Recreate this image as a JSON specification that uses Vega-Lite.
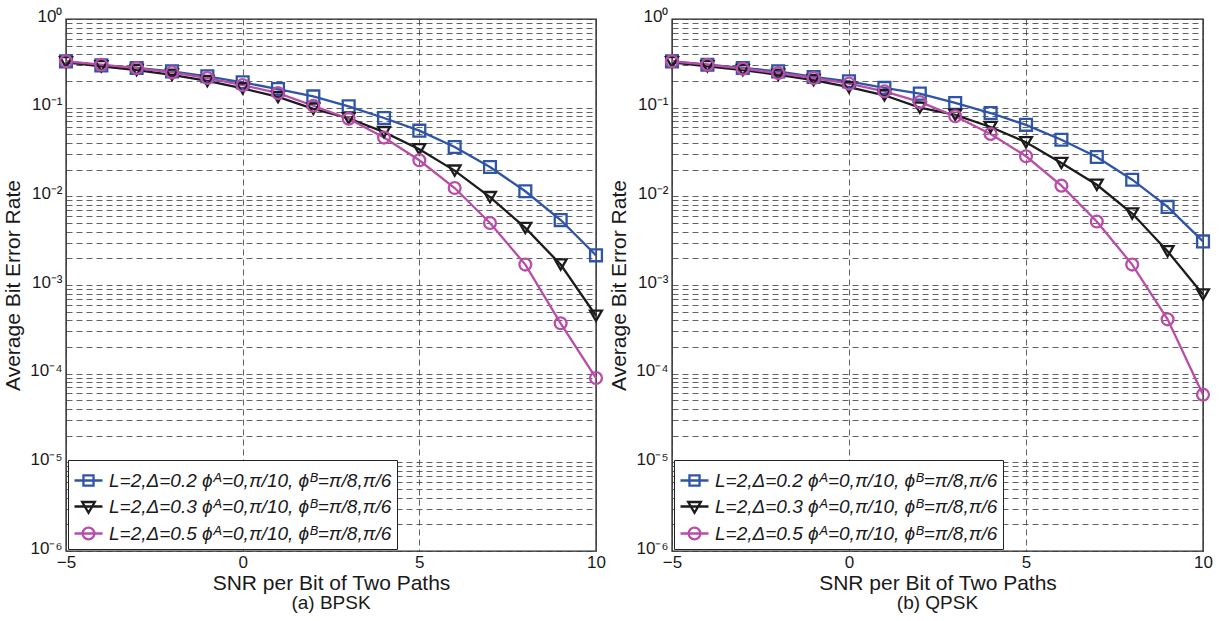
{
  "$schema": "https://vega.github.io/schema/vega-lite/v6.json",
  "background": "white",
  "padding": {"left": 2, "top": 6, "right": 5, "bottom": 3},
  "spacing": 76,
  "bounds": "flush",
  "datasets": {
    "bpsk": [
      {"x": -5, "s": "0.2", "ber": 0.333}, {"x": -4, "s": "0.2", "ber": 0.300}, {"x": -3, "s": "0.2", "ber": 0.280}, {"x": -2, "s": "0.2", "ber": 0.257},
      {"x": -1, "s": "0.2", "ber": 0.226}, {"x": 0, "s": "0.2", "ber": 0.193}, {"x": 1, "s": "0.2", "ber": 0.162}, {"x": 2, "s": "0.2", "ber": 0.134},
      {"x": 3, "s": "0.2", "ber": 0.1035}, {"x": 4, "s": "0.2", "ber": 0.0765}, {"x": 5, "s": "0.2", "ber": 0.055}, {"x": 6, "s": "0.2", "ber": 0.036},
      {"x": 7, "s": "0.2", "ber": 0.0214}, {"x": 8, "s": "0.2", "ber": 0.0114}, {"x": 9, "s": "0.2", "ber": 0.0054}, {"x": 10, "s": "0.2", "ber": 0.00216},
      {"x": -5, "s": "0.3", "ber": 0.325}, {"x": -4, "s": "0.3", "ber": 0.293}, {"x": -3, "s": "0.3", "ber": 0.265}, {"x": -2, "s": "0.3", "ber": 0.235},
      {"x": -1, "s": "0.3", "ber": 0.200}, {"x": 0, "s": "0.3", "ber": 0.165}, {"x": 1, "s": "0.3", "ber": 0.132}, {"x": 2, "s": "0.3", "ber": 0.097},
      {"x": 3, "s": "0.3", "ber": 0.076}, {"x": 4, "s": "0.3", "ber": 0.053}, {"x": 5, "s": "0.3", "ber": 0.034}, {"x": 6, "s": "0.3", "ber": 0.0195},
      {"x": 7, "s": "0.3", "ber": 0.0098}, {"x": 8, "s": "0.3", "ber": 0.0044}, {"x": 9, "s": "0.3", "ber": 0.0017}, {"x": 10, "s": "0.3", "ber": 0.00045},
      {"x": -5, "s": "0.5", "ber": 0.333}, {"x": -4, "s": "0.5", "ber": 0.305}, {"x": -3, "s": "0.5", "ber": 0.280}, {"x": -2, "s": "0.5", "ber": 0.250},
      {"x": -1, "s": "0.5", "ber": 0.216}, {"x": 0, "s": "0.5", "ber": 0.180}, {"x": 1, "s": "0.5", "ber": 0.146}, {"x": 2, "s": "0.5", "ber": 0.105},
      {"x": 3, "s": "0.5", "ber": 0.075}, {"x": 4, "s": "0.5", "ber": 0.046}, {"x": 5, "s": "0.5", "ber": 0.0255}, {"x": 6, "s": "0.5", "ber": 0.0124},
      {"x": 7, "s": "0.5", "ber": 0.005}, {"x": 8, "s": "0.5", "ber": 0.0017}, {"x": 9, "s": "0.5", "ber": 0.00037}, {"x": 10, "s": "0.5", "ber": 0.0000893}
    ],
    "qpsk": [
      {"x": -5, "s": "0.2", "ber": 0.333}, {"x": -4, "s": "0.2", "ber": 0.305}, {"x": -3, "s": "0.2", "ber": 0.280}, {"x": -2, "s": "0.2", "ber": 0.257},
      {"x": -1, "s": "0.2", "ber": 0.222}, {"x": 0, "s": "0.2", "ber": 0.198}, {"x": 1, "s": "0.2", "ber": 0.167}, {"x": 2, "s": "0.2", "ber": 0.144},
      {"x": 3, "s": "0.2", "ber": 0.113}, {"x": 4, "s": "0.2", "ber": 0.087}, {"x": 5, "s": "0.2", "ber": 0.064}, {"x": 6, "s": "0.2", "ber": 0.0435},
      {"x": 7, "s": "0.2", "ber": 0.0278}, {"x": 8, "s": "0.2", "ber": 0.0154}, {"x": 9, "s": "0.2", "ber": 0.0076}, {"x": 10, "s": "0.2", "ber": 0.0031},
      {"x": -5, "s": "0.3", "ber": 0.325}, {"x": -4, "s": "0.3", "ber": 0.293}, {"x": -3, "s": "0.3", "ber": 0.265}, {"x": -2, "s": "0.3", "ber": 0.235},
      {"x": -1, "s": "0.3", "ber": 0.205}, {"x": 0, "s": "0.3", "ber": 0.170}, {"x": 1, "s": "0.3", "ber": 0.138}, {"x": 2, "s": "0.3", "ber": 0.100},
      {"x": 3, "s": "0.3", "ber": 0.083}, {"x": 4, "s": "0.3", "ber": 0.0605}, {"x": 5, "s": "0.3", "ber": 0.0407}, {"x": 6, "s": "0.3", "ber": 0.0238},
      {"x": 7, "s": "0.3", "ber": 0.0135}, {"x": 8, "s": "0.3", "ber": 0.0064}, {"x": 9, "s": "0.3", "ber": 0.0024}, {"x": 10, "s": "0.3", "ber": 0.00078},
      {"x": -5, "s": "0.5", "ber": 0.333}, {"x": -4, "s": "0.5", "ber": 0.305}, {"x": -3, "s": "0.5", "ber": 0.275}, {"x": -2, "s": "0.5", "ber": 0.246},
      {"x": -1, "s": "0.5", "ber": 0.216}, {"x": 0, "s": "0.5", "ber": 0.187}, {"x": 1, "s": "0.5", "ber": 0.153}, {"x": 2, "s": "0.5", "ber": 0.116},
      {"x": 3, "s": "0.5", "ber": 0.080}, {"x": 4, "s": "0.5", "ber": 0.0505}, {"x": 5, "s": "0.5", "ber": 0.0283}, {"x": 6, "s": "0.5", "ber": 0.0132},
      {"x": 7, "s": "0.5", "ber": 0.0052}, {"x": 8, "s": "0.5", "ber": 0.0017}, {"x": 9, "s": "0.5", "ber": 0.00041}, {"x": 10, "s": "0.5", "ber": 0.000058}
    ]
  },
  "hconcat": [
    {
      "width": 530,
      "height": 532,
      "data": {"name": "bpsk"},
      "title": {"text": "(a) BPSK", "orient": "bottom", "fontSize": 19, "fontWeight": "normal", "font": "Liberation Sans", "color": "#1a1a1a", "offset": 1},
      "encoding": {
        "x": {"field": "x", "type": "quantitative", "scale": {"domain": [-5, 10], "nice": false, "zero": false},
          "axis": {"title": "SNR per Bit of Two Paths", "values": [-5, 0, 5, 10], "grid": true, "domain": false, "ticks": false, "labelFlush": false, "labelPadding": 3, "titlePadding": 2}},
        "y": {"field": "ber", "type": "quantitative", "scale": {"type": "log", "domain": [0.000001, 1], "nice": false},
          "axis": {"title": "Average Bit Error Rate", "grid": true, "domain": false, "ticks": false, "labelOverlap": false, "labelPadding": 4, "labelOffset": -3, "titlePadding": 6,
            "values": [0.000001,0.000002,0.000003,0.000004,0.000005,0.000006,0.000007,0.000008,0.000009,0.00001,0.00002,0.00003,0.00004,0.00005,0.00006,0.00007,0.00008,0.00009,0.0001,0.0002,0.0003,0.0004,0.0005,0.0006,0.0007,0.0008,0.0009,0.001,0.002,0.003,0.004,0.005,0.006,0.007,0.008,0.009,0.01,0.02,0.03,0.04,0.05,0.06,0.07,0.08,0.09,0.1,0.2,0.3,0.4,0.5,0.6,0.7,0.8,0.9,1],
            "labelExpr": "datum.value == 1 ? '10⁰' : datum.value == 0.1 ? '10⁻¹' : datum.value == 0.01 ? '10⁻²' : datum.value == 0.001 ? '10⁻³' : datum.value == 0.0001 ? '10⁻⁴' : datum.value == 0.00001 ? '10⁻⁵' : datum.value == 0.000001 ? '10⁻⁶' : ''"}}
      },
      "layer": [
        {"mark": {"type": "line", "strokeWidth": 2.3},
          "encoding": {"color": {"field": "s", "type": "nominal", "scale": {"domain": ["0.2", "0.3", "0.5"], "range": ["#2E55A6", "#1c1c1c", "#B84EA8"]}, "legend": null}}},
        {"mark": {"type": "point", "filled": false, "strokeWidth": 2.3, "size": 140, "opacity": 1},
          "encoding": {
            "color": {"field": "s", "type": "nominal", "scale": {"domain": ["0.2", "0.3", "0.5"], "range": ["#2E55A6", "#1c1c1c", "#B84EA8"]}, "legend": null},
            "shape": {"field": "s", "type": "nominal", "scale": {"domain": ["0.2", "0.3", "0.5"], "range": ["square", "triangle-down", "circle"]}, "legend": null}}},
        {"transform": [{"filter": "datum.x > 100"}],
          "mark": {"type": "point", "filled": false, "strokeWidth": 2.3, "opacity": 1},
          "encoding": {
            "color": {"field": "s", "type": "nominal", "scale": {"domain": ["0.2", "0.3", "0.5"], "range": ["#2E55A6", "#1c1c1c", "#B84EA8"]},
              "legend": {"title": null, "orient": "bottom-left", "offset": 2, "strokeColor": "#222", "fillColor": "white", "padding": 5, "rowPadding": 0, "labelOffset": 5, "labelLimit": 500,
                "labelFont": "Liberation Sans", "labelFontSize": 19, "labelFontStyle": "italic", "labelColor": "#1a1a1a", "symbolSize": 784, "symbolStrokeWidth": 2.3,
                "labelExpr": "'L=2,Δ=' + datum.label + ' ϕᴬ=0,π/10, ϕᴮ=π/8,π/6'"}},
            "shape": {"field": "s", "type": "nominal",
              "scale": {"domain": ["0.2", "0.3", "0.5"], "range": ["M-1,0L1,0M-0.36,-0.36L0.36,-0.36L0.36,0.36L-0.36,0.36Z", "M-1,0L1,0M-0.45,-0.32L0.45,-0.32L0,0.45Z", "M-1,0L1,0M0.42,0A0.42,0.42 0 1,1 -0.42,0A0.42,0.42 0 1,1 0.42,0Z"]},
              "legend": {"title": null, "orient": "bottom-left", "offset": 2, "strokeColor": "#222", "fillColor": "white", "padding": 5, "rowPadding": 0, "labelOffset": 5, "labelLimit": 500,
                "labelFont": "Liberation Sans", "labelFontSize": 19, "labelFontStyle": "italic", "labelColor": "#1a1a1a", "symbolSize": 784, "symbolStrokeWidth": 2.3,
                "labelExpr": "'L=2,Δ=' + datum.label + ' ϕᴬ=0,π/10, ϕᴮ=π/8,π/6'"}}}}
      ],
      "resolve": {"scale": {"color": "independent", "shape": "independent"}, "legend": {"color": "independent", "shape": "independent"}}
    },
    {
      "width": 531,
      "height": 532,
      "data": {"name": "qpsk"},
      "title": {"text": "(b) QPSK", "orient": "bottom", "fontSize": 19, "fontWeight": "normal", "font": "Liberation Sans", "color": "#1a1a1a", "offset": 1},
      "encoding": {
        "x": {"field": "x", "type": "quantitative", "scale": {"domain": [-5, 10], "nice": false, "zero": false},
          "axis": {"title": "SNR per Bit of Two Paths", "values": [-5, 0, 5, 10], "grid": true, "domain": false, "ticks": false, "labelFlush": false, "labelPadding": 3, "titlePadding": 2}},
        "y": {"field": "ber", "type": "quantitative", "scale": {"type": "log", "domain": [0.000001, 1], "nice": false},
          "axis": {"title": "Average Bit Error Rate", "grid": true, "domain": false, "ticks": false, "labelOverlap": false, "labelPadding": 4, "labelOffset": -3, "titlePadding": 6,
            "values": [0.000001,0.000002,0.000003,0.000004,0.000005,0.000006,0.000007,0.000008,0.000009,0.00001,0.00002,0.00003,0.00004,0.00005,0.00006,0.00007,0.00008,0.00009,0.0001,0.0002,0.0003,0.0004,0.0005,0.0006,0.0007,0.0008,0.0009,0.001,0.002,0.003,0.004,0.005,0.006,0.007,0.008,0.009,0.01,0.02,0.03,0.04,0.05,0.06,0.07,0.08,0.09,0.1,0.2,0.3,0.4,0.5,0.6,0.7,0.8,0.9,1],
            "labelExpr": "datum.value == 1 ? '10⁰' : datum.value == 0.1 ? '10⁻¹' : datum.value == 0.01 ? '10⁻²' : datum.value == 0.001 ? '10⁻³' : datum.value == 0.0001 ? '10⁻⁴' : datum.value == 0.00001 ? '10⁻⁵' : datum.value == 0.000001 ? '10⁻⁶' : ''"}}
      },
      "layer": [
        {"mark": {"type": "line", "strokeWidth": 2.3},
          "encoding": {"color": {"field": "s", "type": "nominal", "scale": {"domain": ["0.2", "0.3", "0.5"], "range": ["#2E55A6", "#1c1c1c", "#B84EA8"]}, "legend": null}}},
        {"mark": {"type": "point", "filled": false, "strokeWidth": 2.3, "size": 140, "opacity": 1},
          "encoding": {
            "color": {"field": "s", "type": "nominal", "scale": {"domain": ["0.2", "0.3", "0.5"], "range": ["#2E55A6", "#1c1c1c", "#B84EA8"]}, "legend": null},
            "shape": {"field": "s", "type": "nominal", "scale": {"domain": ["0.2", "0.3", "0.5"], "range": ["square", "triangle-down", "circle"]}, "legend": null}}},
        {"transform": [{"filter": "datum.x > 100"}],
          "mark": {"type": "point", "filled": false, "strokeWidth": 2.3, "opacity": 1},
          "encoding": {
            "color": {"field": "s", "type": "nominal", "scale": {"domain": ["0.2", "0.3", "0.5"], "range": ["#2E55A6", "#1c1c1c", "#B84EA8"]},
              "legend": {"title": null, "orient": "bottom-left", "offset": 2, "strokeColor": "#222", "fillColor": "white", "padding": 5, "rowPadding": 0, "labelOffset": 5, "labelLimit": 500,
                "labelFont": "Liberation Sans", "labelFontSize": 19, "labelFontStyle": "italic", "labelColor": "#1a1a1a", "symbolSize": 784, "symbolStrokeWidth": 2.3,
                "labelExpr": "'L=2,Δ=' + datum.label + ' ϕᴬ=0,π/10, ϕᴮ=π/8,π/6'"}},
            "shape": {"field": "s", "type": "nominal",
              "scale": {"domain": ["0.2", "0.3", "0.5"], "range": ["M-1,0L1,0M-0.36,-0.36L0.36,-0.36L0.36,0.36L-0.36,0.36Z", "M-1,0L1,0M-0.45,-0.32L0.45,-0.32L0,0.45Z", "M-1,0L1,0M0.42,0A0.42,0.42 0 1,1 -0.42,0A0.42,0.42 0 1,1 0.42,0Z"]},
              "legend": {"title": null, "orient": "bottom-left", "offset": 2, "strokeColor": "#222", "fillColor": "white", "padding": 5, "rowPadding": 0, "labelOffset": 5, "labelLimit": 500,
                "labelFont": "Liberation Sans", "labelFontSize": 19, "labelFontStyle": "italic", "labelColor": "#1a1a1a", "symbolSize": 784, "symbolStrokeWidth": 2.3,
                "labelExpr": "'L=2,Δ=' + datum.label + ' ϕᴬ=0,π/10, ϕᴮ=π/8,π/6'"}}}}
      ],
      "resolve": {"scale": {"color": "independent", "shape": "independent"}, "legend": {"color": "independent", "shape": "independent"}}
    }
  ],
  "resolve": {"scale": {"color": "independent", "shape": "independent"}, "legend": {"color": "independent", "shape": "independent"}},
  "config": {
    "font": "Liberation Sans",
    "view": {"stroke": "#222", "strokeWidth": 1.4},
    "axis": {"labelFont": "Liberation Sans", "labelFontSize": 17, "labelColor": "#1a1a1a", "titleFont": "Liberation Sans", "titleFontSize": 21, "titleFontWeight": "normal", "titleColor": "#1a1a1a",
      "gridColor": "#3a3a3a", "gridDash": [6, 4], "gridWidth": 0.8, "gridOpacity": 1}
  }
}
